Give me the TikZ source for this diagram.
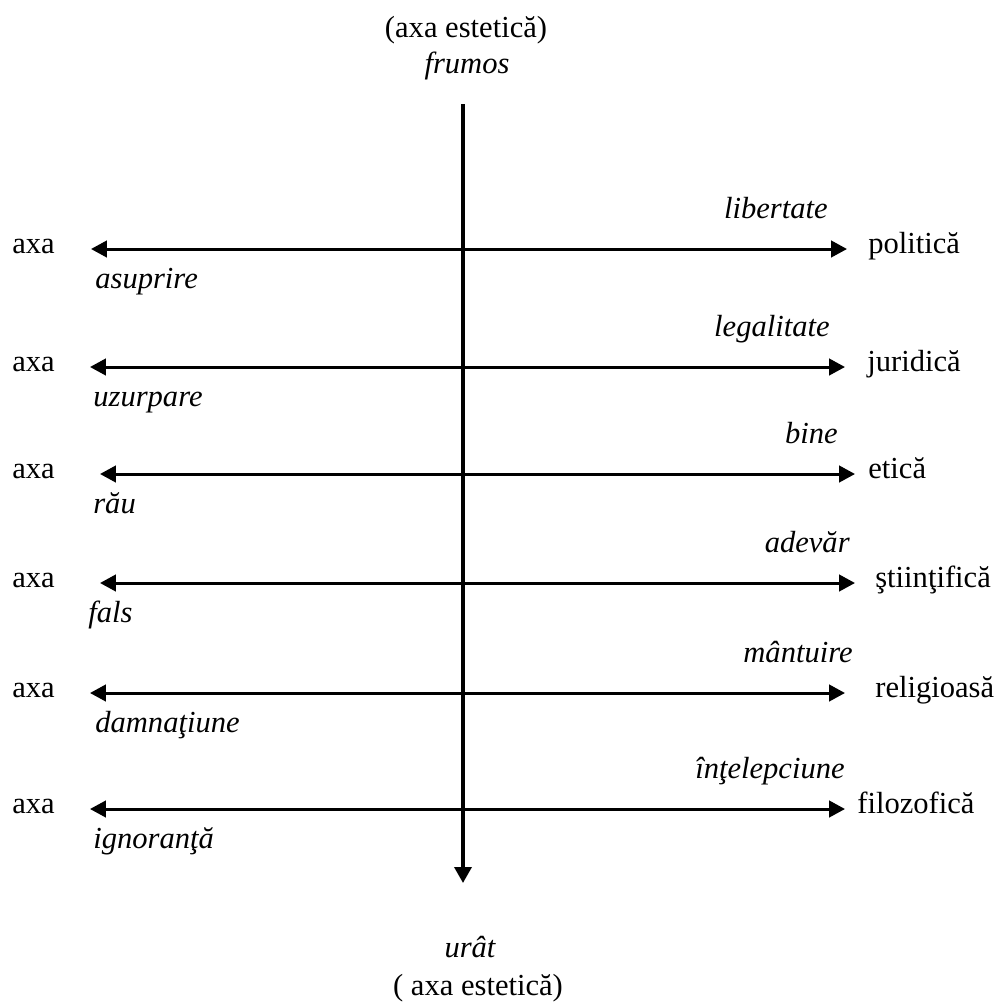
\documentclass[tikz,border=0pt]{standalone}
\usepackage{fontspec}
\setmainfont{Liberation Serif}
\usetikzlibrary{arrows.meta}
\tikzset{
  txt/.style={inner sep=0pt,font=\fontsize{17.4}{21}\selectfont},
  val/.style={txt,font=\fontsize{17.4}{21}\selectfont\itshape},
  haxis/.style={{Triangle[length=0.32cm,width=0.33cm]}-{Triangle[length=0.32cm,width=0.33cm]},line width=1.7pt},
  vaxis/.style={-{Triangle[length=0.32cm,width=0.34cm]},line width=2pt}
}

\begin{document}
\begin{tikzpicture}[x=0.02cm,y=-0.02cm]
    \useasboundingbox (0,0) rectangle (1001,1002);
    % axa estetica (verticala)
    \node[txt,anchor=base] (estSus) at (466,37) {(axa estetică)};
    \node[val,anchor=base] (frumos) at (467,73) {frumos};
    \node[val,anchor=base] (urat) at (470,957) {urât};
    \node[txt,anchor=base] (estJos) at (478,995) {( axa estetică)};
    \coordinate (sus) at (463,104);
    \coordinate (jos) at (463,883);
    \draw[vaxis] (sus) -- (jos);
    % celelalte axe
    \foreach \ry/\xl/\xr/\vneg/\xn/\vpoz/\xp/\nume/\xt [count=\i] in {
        249/91/847/asuprire/95/libertate/828/politică/868,
        367/90/845/uzurpare/93/legalitate/830/juridică/867,
        474/100/855/rău/93/bine/838/etică/868,
        583/100/855/fals/88/adevăr/850/ştiinţifică/875,
        693/90/845/damnaţiune/95/mântuire/853/religioasă/875,
        809/90/845/ignoranţă/93/înţelepciune/845/filozofică/857}
    {
        \coordinate (st\i) at (\xl,\ry);
        \coordinate (dr\i) at (\xr,\ry);
        \draw[haxis] (st\i) -- (dr\i);
        \node[txt,anchor=mid west] (axa\i) at (12,\ry) {axa};
        \node[txt,anchor=mid west] (nume\i) at (\xt,\ry) {\nume};
        \node[val,anchor=base west] (neg\i) at (\xn,\ry+39) {\vneg};
        \node[val,anchor=base east] (poz\i) at (\xp,\ry-31) {\vpoz};
    }
\end{tikzpicture}
\end{document}
